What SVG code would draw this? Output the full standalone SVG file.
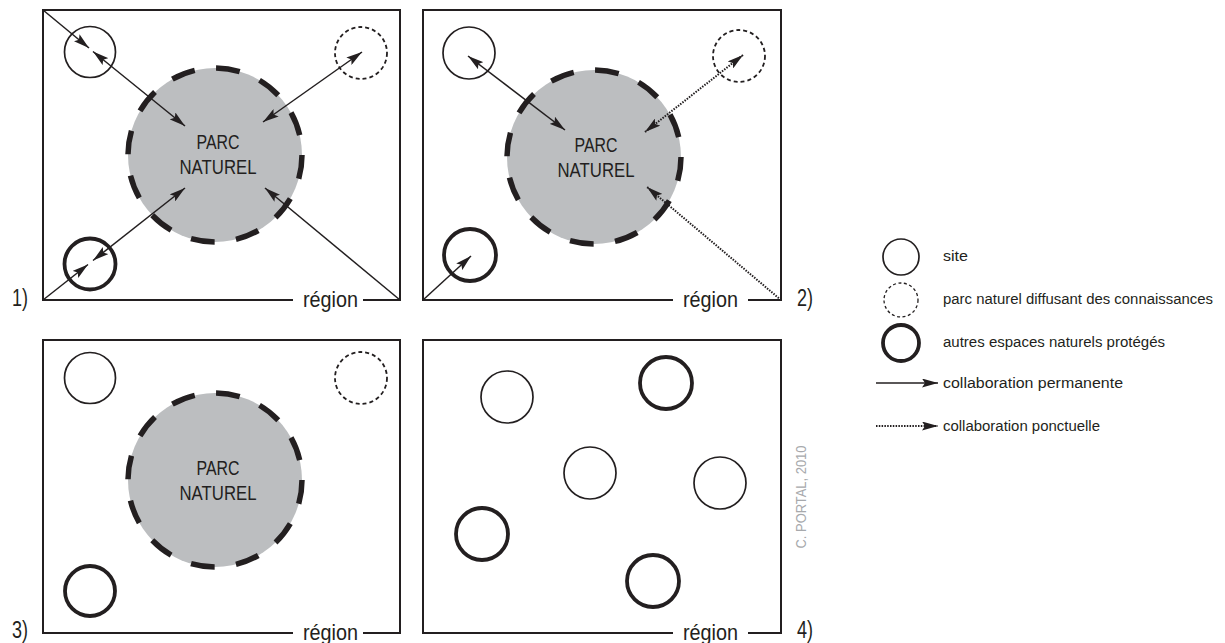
<svg xmlns="http://www.w3.org/2000/svg" width="1225" height="643" viewBox="0 0 1225 643">
<style>
.frame{fill:none;stroke:#231f20;stroke-width:2}
.park{fill:#bcbec0;stroke:#231f20;stroke-width:5.5;stroke-dasharray:24 21.6}
.site{fill:#fff;stroke:#231f20;stroke-width:1.7}
.diff{fill:#fff;stroke:#231f20;stroke-width:1.8;stroke-dasharray:4 3}
.prot{fill:#fff;stroke:#231f20;stroke-width:3.8}
.perm{fill:none;stroke:#231f20;stroke-width:1.5}
.ponc{fill:none;stroke:#231f20;stroke-width:2;stroke-dasharray:1.5 1.3}
text{font-family:"Liberation Sans",Arial,sans-serif;fill:#231f20}
.pk{font-size:21px;text-anchor:middle}
.lab{font-size:23px}
.reg{font-size:22px}
.leg{font-size:15.5px}
.copy{font-size:14.5px;fill:#a7a9ac}
</style>
<defs>
<marker id="ah" viewBox="0 0 16 9" refX="16" refY="4.5" markerWidth="16" markerHeight="9" markerUnits="userSpaceOnUse" orient="auto-start-reverse">
<path d="M0,0 L16,4.5 L0,9 L3,4.5 z" fill="#231f20"/>
</marker>
</defs>

<g id="panel1">
<path class="frame" d="M293,300 L43,300 L43,10 L400,10 L400,300 L363,300"/>
<circle id="p1-park" class="park" cx="215" cy="155" r="87"/>
<circle id="p1-site" class="site" cx="90" cy="52" r="25.5"/>
<circle id="p1-diff" class="diff" cx="361" cy="53" r="26"/>
<circle id="p1-prot" class="prot" cx="90" cy="264" r="25.5"/>
<text class="pk" x="218" y="149" textLength="43" lengthAdjust="spacingAndGlyphs">PARC</text>
<text class="pk" x="218" y="174" textLength="77" lengthAdjust="spacingAndGlyphs">NATUREL</text>
<text class="reg" x="303" y="307" textLength="55" lengthAdjust="spacingAndGlyphs">région</text>
<text class="lab" x="12" y="306" textLength="16" lengthAdjust="spacingAndGlyphs">1)</text>
</g>

<g id="panel2">
<path class="frame" d="M673,300 L423,300 L423,10 L781,10 L781,300 L748,300"/>
<circle id="p2-park" class="park" cx="594" cy="157" r="87"/>
<circle id="p2-site" class="site" cx="469" cy="53" r="26"/>
<circle id="p2-diff" class="diff" cx="739" cy="56" r="26"/>
<circle id="p2-prot" class="prot" cx="470" cy="255" r="26"/>
<text class="pk" x="596" y="152" textLength="43" lengthAdjust="spacingAndGlyphs">PARC</text>
<text class="pk" x="596" y="177" textLength="77" lengthAdjust="spacingAndGlyphs">NATUREL</text>
<text class="reg" x="683" y="307" textLength="55" lengthAdjust="spacingAndGlyphs">région</text>
<text class="lab" x="797" y="306" textLength="16" lengthAdjust="spacingAndGlyphs">2)</text>
</g>

<g id="panel3">
<path class="frame" d="M293,633 L43,633 L43,340 L400,340 L400,633 L363,633"/>
<circle id="p3-park" class="park" cx="215" cy="480" r="87"/>
<circle id="p3-site" class="site" cx="90" cy="378" r="25.5"/>
<circle id="p3-diff" class="diff" cx="361" cy="378" r="26"/>
<circle id="p3-prot" class="prot" cx="90" cy="591" r="25"/>
<text class="pk" x="218" y="475" textLength="43" lengthAdjust="spacingAndGlyphs">PARC</text>
<text class="pk" x="218" y="500" textLength="77" lengthAdjust="spacingAndGlyphs">NATUREL</text>
<text class="reg" x="303" y="640" textLength="55" lengthAdjust="spacingAndGlyphs">région</text>
<text class="lab" x="12" y="638" textLength="16" lengthAdjust="spacingAndGlyphs">3)</text>
</g>

<g id="panel4">
<path class="frame" d="M673,633 L423,633 L423,340 L781,340 L781,633 L748,633"/>
<circle id="p4-site1" class="site" cx="507" cy="397" r="26"/>
<circle id="p4-prot1" class="prot" cx="666" cy="383" r="26"/>
<circle id="p4-site2" class="site" cx="590" cy="473" r="26"/>
<circle id="p4-site3" class="site" cx="720" cy="483" r="26"/>
<circle id="p4-prot2" class="prot" cx="482" cy="534" r="26"/>
<circle id="p4-prot3" class="prot" cx="653" cy="581" r="26"/>
<text class="reg" x="683" y="640" textLength="55" lengthAdjust="spacingAndGlyphs">région</text>
<text class="lab" x="797" y="638" textLength="16" lengthAdjust="spacingAndGlyphs">4)</text>
</g>

<g id="connectors">
<line class="perm" x1="43" y1="10" x2="89" y2="48" marker-end="url(#ah)"/>
<line class="perm" x1="93" y1="51.5" x2="185" y2="126" marker-start="url(#ah)" marker-end="url(#ah)"/>
<line class="perm" x1="362" y1="52" x2="263" y2="122" marker-start="url(#ah)" marker-end="url(#ah)"/>
<line class="perm" x1="43" y1="300" x2="88" y2="264.5" marker-end="url(#ah)"/>
<line class="perm" x1="93" y1="260.5" x2="185" y2="188" marker-start="url(#ah)" marker-end="url(#ah)"/>
<line class="perm" x1="400" y1="300" x2="265" y2="188" marker-end="url(#ah)"/>

<line class="perm" x1="468" y1="56" x2="565" y2="130" marker-start="url(#ah)" marker-end="url(#ah)"/>
<line class="ponc" x1="743" y1="55" x2="645" y2="132" marker-start="url(#ah)" marker-end="url(#ah)"/>
<line class="ponc" x1="781" y1="300" x2="647" y2="187" marker-end="url(#ah)"/>
<line class="perm" x1="423" y1="300" x2="471" y2="256" marker-end="url(#ah)"/>

<line class="perm" x1="876" y1="383" x2="938" y2="383" marker-end="url(#ah)"/>
<line class="ponc" x1="876" y1="426" x2="938" y2="426" marker-end="url(#ah)"/>
</g>

<g id="legend">
<circle class="site" cx="901" cy="257" r="18"/>
<circle class="diff" cx="901" cy="300" r="17" style="stroke-width:1.3;stroke-dasharray:3 2.5"/>
<circle class="prot" cx="901" cy="343" r="18"/>
<text class="leg" x="943" y="261" textLength="25" lengthAdjust="spacingAndGlyphs">site</text>
<text class="leg" x="943" y="304" textLength="270" lengthAdjust="spacingAndGlyphs">parc naturel diffusant des connaissances</text>
<text class="leg" x="943" y="347" textLength="222" lengthAdjust="spacingAndGlyphs">autres espaces naturels protégés</text>
<text class="leg" x="943" y="388" textLength="180" lengthAdjust="spacingAndGlyphs">collaboration permanente</text>
<text class="leg" x="943" y="431" textLength="157" lengthAdjust="spacingAndGlyphs">collaboration ponctuelle</text>
</g>

<text class="copy" x="806" y="497" text-anchor="middle" transform="rotate(-90 806 497)" textLength="103" lengthAdjust="spacingAndGlyphs">C. PORTAL, 2010</text>
</svg>
